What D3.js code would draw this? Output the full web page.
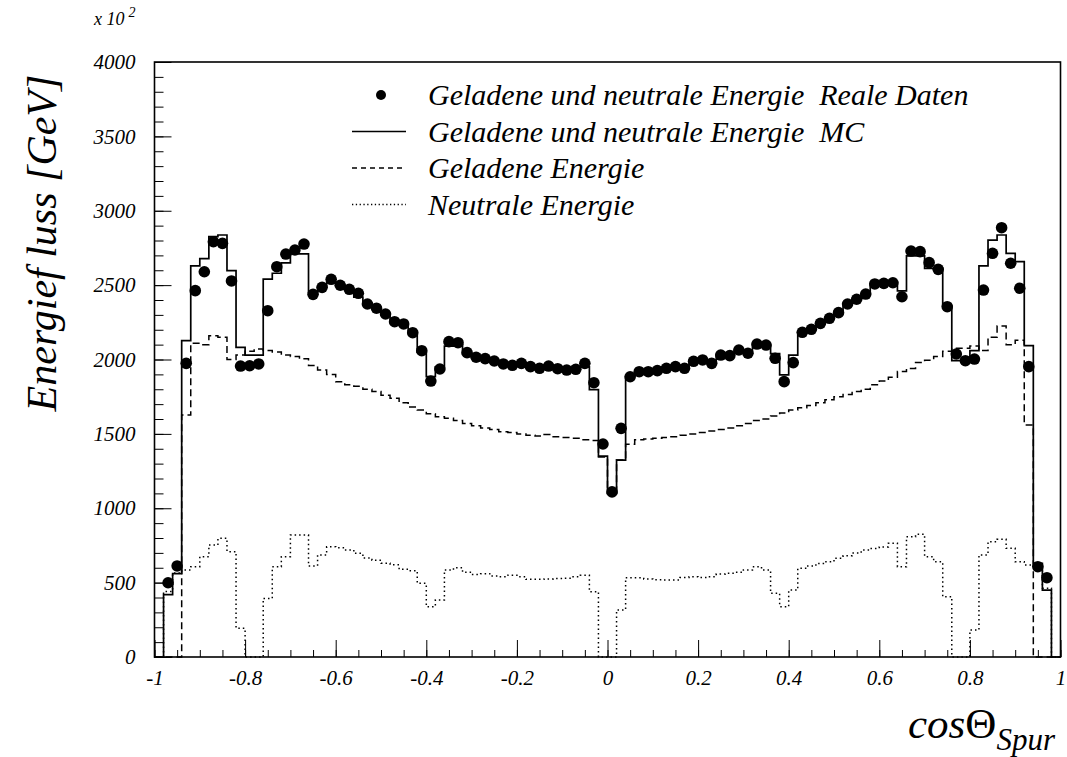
<!DOCTYPE html>
<html><head><meta charset="utf-8">
<script src="https://cdn.jsdelivr.net/npm/d3@7"></script>
<style>
body{margin:0;background:#fff}
text{font-family:"Liberation Serif","Times New Roman",serif;font-style:italic;fill:#000}
</style>
</head><body><svg id="c" width="1067" height="757"></svg>
<script>
// ---- data (100 bins of width 0.02 between -1 and 1) ----
const binLow = -1, binHigh = 1, binCount = 100;
const dataValues = [null,499,612,1974,2463,2590,2792,2781,2528,1956,
 1958,1970,2328,2624,2709,2736,2776,2438,2485,2539,
 2499,2472,2445,2373,2345,2306,2254,2239,2180,2059,
 1855,1936,2120,2113,2046,2015,2006,1990,1970,1961,
 1974,1952,1941,1956,1938,1929,1934,1974,1844,1432,
 1110,1537,1884,1918,1918,1925,1941,1952,1941,1988,
 1997,1974,2030,2026,2064,2042,2104,2097,2008,1851,
 1979,2183,2203,2243,2277,2315,2373,2405,2440,2508,
 2512,2516,2422,2729,2725,2651,2606,2355,2037,1992,
 2003,2467,2714,2886,2647,2479,1952,607,533,null];
const mcValues = [0,420,560,2127,2629,2678,2826,2837,2597,2082,
 2030,2030,2540,2580,2650,2710,2710,2450,2490,2520,
 2500,2470,2420,2380,2340,2300,2260,2240,2190,2050,
 1885,1950,2090,2100,2040,2010,2000,1985,1970,1960,
 1965,1955,1945,1950,1940,1935,1935,1950,1797,1350,
 1100,1324,1884,1915,1920,1925,1940,1950,1945,1985,
 1995,1980,2025,2030,2060,2045,2100,2095,2040,1896,
 2030,2185,2200,2240,2275,2315,2370,2400,2440,2500,
 2515,2520,2462,2696,2696,2613,2613,2360,1992,1992,
 2060,2629,2803,2837,2714,2658,2093,630,450,0];
const chargedValues = [0,0,0,1627,2110,2100,2160,2150,2000,2030,
 2055,2070,2060,2050,2030,2020,2005,1960,1930,1900,
 1850,1830,1820,1800,1785,1760,1740,1710,1680,1660,
 1635,1615,1605,1590,1570,1555,1540,1530,1515,1510,
 1500,1490,1485,1495,1480,1475,1470,1460,1455,1345,
 1100,1324,1430,1460,1465,1470,1475,1480,1490,1500,
 1510,1520,1530,1540,1555,1570,1590,1600,1620,1640,
 1660,1675,1690,1710,1730,1750,1765,1785,1800,1830,
 1855,1880,1920,1940,1980,1995,2020,2055,2075,2075,
 2090,2060,2150,2225,2100,2130,1560,0,0,0];
const neutralValues = [0,440,565,585,607,674,753,798,708,193,
 0,0,394,607,674,820,820,612,686,741,
 735,720,697,665,650,630,620,590,580,495,
 338,383,585,600,570,555,560,545,540,550,
 540,522,522,525,528,530,540,550,439,0,
 0,316,533,533,525,520,518,518,535,540,
 535,540,558,563,569,585,607,585,428,338,
 450,596,612,628,641,664,680,700,719,730,
 740,764,607,809,825,674,640,405,0,0,
 181,686,775,791,731,641,618,610,462,0];

const xMajorTicks = [-1,-0.8,-0.6,-0.4,-0.2,0,0.2,0.4,0.6,0.8,1];
const xMajorLabels = ["-1","-0.8","-0.6","-0.4","-0.2","0","0.2","0.4","0.6","0.8","1"];
const yMajorTicks = [0,500,1000,1500,2000,2500,3000,3500,4000];
const yMajorLabels = ["0","500","1000","1500","2000","2500","3000","3500","4000"];
const legendLabels = ["Geladene und neutrale Energie  Reale Daten",
  "Geladene und neutrale Energie  MC","Geladene Energie","Neutrale Energie"];

// ---- chart ----
const svg = d3.select("#c");
svg.append("rect").attr("width",1067).attr("height",757).attr("fill","#fff");
const L=154.5, R=1060.5, T=62, B=657;
const x = d3.scaleLinear().domain([binLow,binHigh]).range([L,R]);
const y = d3.scaleLinear().domain([0,4000]).range([B,T]);
const bw = (binHigh-binLow)/binCount;
const edges = d3.range(binCount+1).map(i=>binLow+i*bw);

function stepPoints(vals){
  const pts=[[edges[0],0]];
  vals.forEach((v,i)=>pts.push([edges[i],v]));
  pts.push([edges[binCount],vals[binCount-1]]);
  pts.push([edges[binCount],0]);
  return pts;
}
const line = d3.line().x(d=>x(d[0])).y(d=>y(d[1])).curve(d3.curveStepAfter);

// axes (ticks inward)
const xMinor = d3.range(-1,1.0001,0.05).map(v=>+v.toFixed(2));
svg.append("g").attr("transform",`translate(0,${B})`)
  .call(d3.axisBottom(x).tickValues(xMinor).tickSizeInner(-7).tickSizeOuter(0).tickFormat(""))
  .call(g=>g.select(".domain").remove())
  .selectAll("line").attr("stroke","#000").attr("stroke-width",1);
svg.append("g").attr("transform",`translate(0,${B})`)
  .call(d3.axisBottom(x).tickValues(xMajorTicks).tickSizeInner(-17).tickSizeOuter(0)
     .tickPadding(13).tickFormat((d,i)=>xMajorLabels[i]))
  .call(g=>g.select(".domain").remove())
  .call(g=>g.selectAll("line").attr("stroke","#000").attr("stroke-width",1))
  .call(g=>g.selectAll("text").attr("font-size",21).attr("font-family","Liberation Serif").attr("font-style","italic"));

const yMinor = d3.range(0,4001,100);
svg.append("g").attr("transform",`translate(${L},0)`)
  .call(d3.axisLeft(y).tickValues(yMinor).tickSizeInner(-9).tickSizeOuter(0).tickFormat(""))
  .call(g=>g.select(".domain").remove())
  .selectAll("line").attr("stroke","#000").attr("stroke-width",1);
svg.append("g").attr("transform",`translate(${L},0)`)
  .call(d3.axisLeft(y).tickValues(yMajorTicks).tickSizeInner(-17).tickSizeOuter(0)
     .tickPadding(19).tickFormat((d,i)=>yMajorLabels[i]))
  .call(g=>g.select(".domain").remove())
  .call(g=>g.selectAll("line").attr("stroke","#000").attr("stroke-width",1))
  .call(g=>g.selectAll("text").attr("font-size",21).attr("font-family","Liberation Serif").attr("font-style","italic"));

// histograms
svg.append("path").attr("d",line(stepPoints(neutralValues))).attr("fill","none")
  .attr("stroke","#000").attr("stroke-width",1.5).attr("stroke-dasharray","1.5,3");
svg.append("path").attr("d",line(stepPoints(chargedValues))).attr("fill","none")
  .attr("stroke","#000").attr("stroke-width",1.5).attr("stroke-dasharray","7,4");
svg.append("path").attr("d",line(stepPoints(mcValues))).attr("fill","none")
  .attr("stroke","#000").attr("stroke-width",1.7);

// data points
svg.append("g").selectAll("circle")
  .data(dataValues.map((v,i)=>({c:edges[i]+bw/2,v})).filter(d=>d.v!==null))
  .join("circle").attr("cx",d=>x(d.c)).attr("cy",d=>y(d.v)).attr("r",5.8).attr("fill","#000");

// frame
svg.append("rect").attr("x",L).attr("y",T).attr("width",R-L).attr("height",B-T)
  .attr("fill","none").attr("stroke","#000").attr("stroke-width",1.6);

// legend
const legY=[95,131.5,168,204.5];
const lg=svg.append("g");
lg.append("circle").attr("cx",381).attr("cy",legY[0]).attr("r",5).attr("fill","#000");
lg.append("line").attr("x1",352).attr("x2",406).attr("y1",legY[1]).attr("y2",legY[1]).attr("stroke","#000").attr("stroke-width",1.5);
lg.append("line").attr("x1",352).attr("x2",406).attr("y1",legY[2]).attr("y2",legY[2]).attr("stroke","#000").attr("stroke-width",1.3).attr("stroke-dasharray","5,4");
lg.append("line").attr("x1",352).attr("x2",406).attr("y1",legY[3]).attr("y2",legY[3]).attr("stroke","#000").attr("stroke-width",1.3).attr("stroke-dasharray","1.3,2.5");
legendLabels.forEach((t,i)=>{
  lg.append("text").attr("x",428).attr("y",legY[i]+10).attr("font-size",30)
    .attr("xml:space","preserve").style("white-space","pre").text(t);
});

// exponent label
const ex=svg.append("text").attr("x",94).attr("y",25).attr("font-size",18);
ex.append("tspan").text("x 10");
ex.append("tspan").attr("dy",-8).attr("dx",4).attr("font-size",14).text("2");

// y title
svg.append("text").attr("transform","translate(56,243) rotate(-90)").attr("text-anchor","middle")
  .attr("font-size",42).text("Energief luss [GeV]");

// x title
const xt=svg.append("text").attr("x",1055).attr("y",738).attr("text-anchor","end").attr("font-size",43);
xt.append("tspan").text("cos");
xt.append("tspan").attr("font-style","normal").text("Θ");
xt.append("tspan").attr("font-size",31).attr("dy",12).text("Spur");
</script></body></html>
